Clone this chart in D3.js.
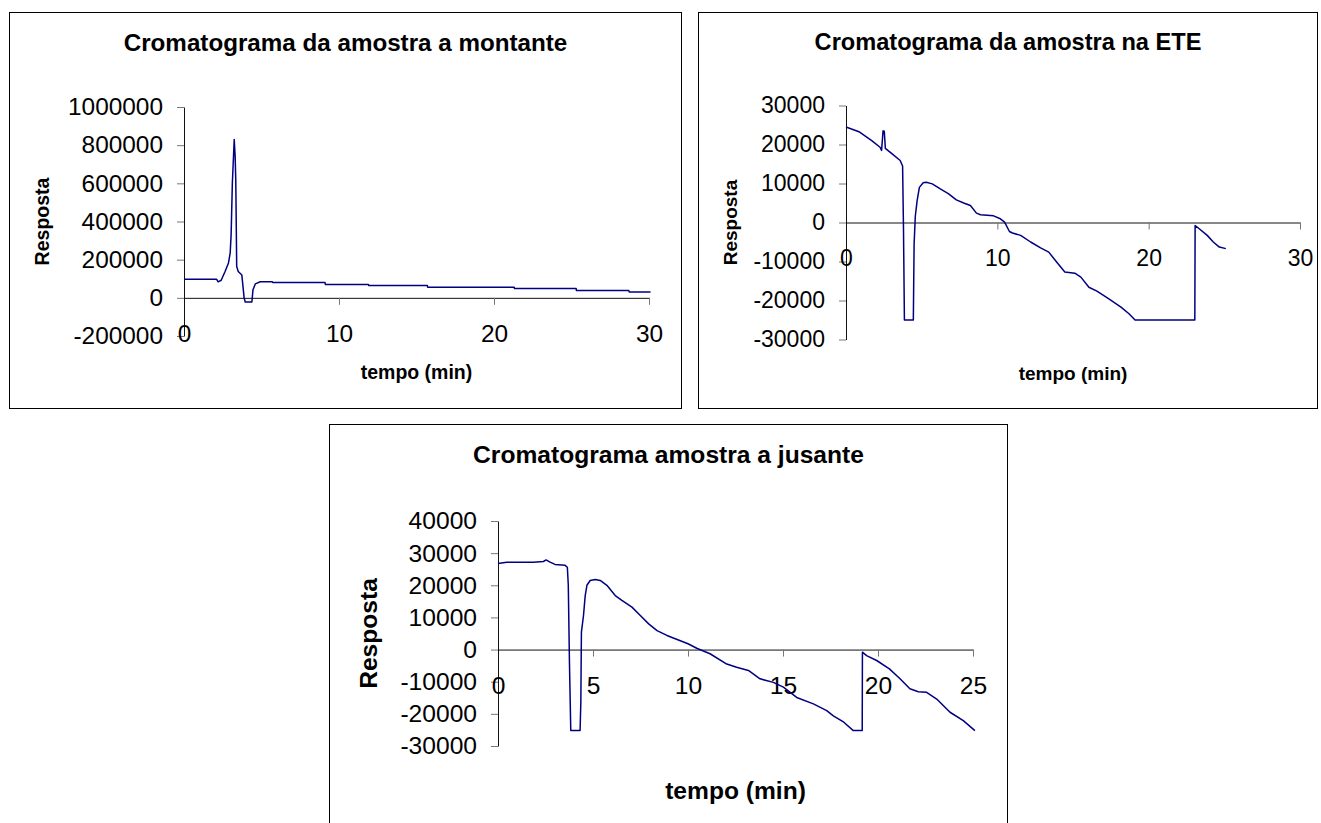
<!DOCTYPE html>
<html lang="pt">
<head>
<meta charset="UTF-8">
<title>Cromatogramas</title>
<style>
  body { margin: 0; background: #fff; }
  svg text { font-family: "Liberation Sans", Arial, sans-serif; fill: #000; }
</style>
</head>
<body>
<svg id="fig" width="1321" height="823"></svg>
<script src="https://d3js.org/d3.v7.min.js"></script>
<script>
// [tempo (min), resposta]
const montante = [
  [0, 98000], [2.1, 98000], [2.2, 84000], [2.4, 92000], [2.65, 138000], [2.87, 183000],
  [2.98, 235000], [3.04, 330000], [3.12, 602000], [3.24, 830000], [3.3, 740000],
  [3.34, 618000], [3.4, 164000], [3.5, 138000], [3.73, 120000], [3.88, 0],
  [3.95, -22000], [4.38, -22000], [4.45, 42000], [4.6, 73000], [4.92, 84000],
  [5.7, 84000], [5.72, 80000], [9.1, 80000], [9.12, 70000], [11.9, 70000],
  [11.92, 64000], [15.7, 64000], [15.72, 56000], [21.3, 56000], [21.32, 49000],
  [25.3, 49000], [25.32, 38000], [28.7, 38000], [28.72, 31000], [30.1, 31000]
];
const ete = [
  [0, 24500], [0.9, 23200], [1.7, 21000], [2.25, 19300], [2.35, 18500], [2.45, 23500],
  [2.53, 23400], [2.6, 19000], [3.05, 17600], [3.58, 15900], [3.74, 14500], [3.8, -2000],
  [3.86, -25000], [4.45, -25000], [4.5, -5600], [4.58, 1600], [4.7, 5600], [4.85, 9000],
  [5.1, 10200], [5.3, 10300], [5.7, 9900], [6.23, 8600], [6.76, 7400], [7.29, 5800],
  [7.82, 4950], [8.22, 4350], [8.62, 2400], [8.89, 1970], [9.75, 1700], [10.2, 950],
  [10.48, 100], [10.8, -2300], [11.0, -2700], [11.54, -3300], [12.2, -5000], [12.86, -6500],
  [13.4, -7600], [13.93, -10200], [14.46, -12700], [15.12, -13000], [15.52, -14000],
  [16.05, -16600], [16.58, -17600], [17.37, -19600], [18.17, -21700], [18.7, -23400],
  [19.1, -25000], [23.05, -25000], [23.07, -800], [23.34, -1600], [23.87, -3300],
  [24.27, -5000], [24.67, -6300], [25.1, -6700]
];
const jusante = [
  [0, 26800], [0.46, 27200], [1.16, 27200], [1.86, 27200], [2.39, 27400], [2.53, 27900],
  [2.74, 27200], [3.0, 26500], [3.53, 26200], [3.65, 25600], [3.7, 20000], [3.76, -3900],
  [3.83, -25200], [4.32, -25200], [4.36, -16400], [4.39, 5400], [4.5, 10600], [4.59, 16800],
  [4.68, 20000], [4.85, 21500], [5.12, 21800], [5.38, 21500], [5.73, 20000], [6.17, 16800],
  [6.52, 15300], [7.05, 13200], [7.49, 10600], [7.93, 8000], [8.37, 5900], [8.89, 4400],
  [10.0, 1800], [10.46, 400], [11.16, -1300], [12.04, -4500], [12.56, -5500], [13.18, -6500],
  [13.79, -9100], [14.49, -10200], [15.02, -11700], [15.72, -14900], [16.6, -16900],
  [17.3, -19000], [17.65, -20600], [18.2, -22600], [18.7, -25200], [19.17, -25200],
  [19.18, -800], [19.4, -1900], [19.93, -3400], [20.6, -6000], [21.16, -9100],
  [21.68, -12200], [22.12, -13100], [22.56, -13300], [23.09, -15400], [23.79, -19500],
  [24.49, -22100], [25.1, -25200]
];

const titles = ["Cromatograma da amostra a montante", "Cromatograma da amostra na ETE", "Cromatograma amostra a jusante"];
const xDomains = [[0, 30], [0, 30], [0, 25]];
const yDomains = [[-200000, 1000000], [-30000, 30000], [-30000, 40000]];
const xTicks = [[0, 10, 20, 30], [0, 10, 20, 30], [0, 5, 10, 15, 20, 25]];
const yTicks = [d3.range(-200000, 1000001, 200000), d3.range(-30000, 30001, 10000), d3.range(-30000, 40001, 10000)];
const xLabel = "tempo (min)";
const yLabel = "Resposta";

// layout of each panel: frame box, plot box and font sizes
const panels = [
  { frame: [9.5, 12.5, 672, 396], plot: [184, 107, 649, 336], titleY: 51, tick: 24.4, title: 24.2, axisT: 19.5, xlabY: 379, ylabX: 49 },
  { frame: [698.5, 12.5, 619, 396], plot: [846, 105.5, 1300, 339.5], titleY: 50, tick: 23, title: 23.6, axisT: 19, xlabY: 380, ylabX: 737 },
  { frame: [329.5, 424.5, 678, 410], plot: [498, 521, 973, 746], titleY: 463, tick: 24.6, title: 24.6, axisT: 24.6, xlabY: 799, ylabX: 377 }
];
const series = [montante, ete, jusante];

const svg = d3.select("#fig");
const plain = d => String(d); // hyphen-minus, as in the original

panels.forEach((p, i) => {
  const g = svg.append("g");
  const [fx, fy, fw, fh] = p.frame;
  const [x0, y0, x1, y1] = p.plot;

  g.append("rect").attr("x", fx).attr("y", fy).attr("width", fw).attr("height", fh)
    .attr("fill", "#fff").attr("stroke", "#000").attr("stroke-width", 1);

  const x = d3.scaleLinear().domain(xDomains[i]).range([x0, x1]);
  const y = d3.scaleLinear().domain(yDomains[i]).range([y1, y0]);

  g.append("text").attr("x", fx + fw / 2).attr("y", p.titleY)
    .attr("text-anchor", "middle").attr("font-weight", "bold").attr("font-size", p.title)
    .text(titles[i]);

  const yAxis = g.append("g").attr("transform", `translate(${x(0)},0)`)
    .call(d3.axisLeft(y).tickValues(yTicks[i]).tickFormat(plain).tickSize(7).tickSizeOuter(0).tickPadding(14));
  const xAxis = g.append("g").attr("transform", `translate(0,${y(0)})`)
    .call(d3.axisBottom(x).tickValues(xTicks[i]).tickFormat(plain).tickSize(7).tickSizeOuter(0).tickPadding(20));

  [xAxis, yAxis].forEach(a => {
    a.select(".domain").attr("stroke", "#111");
    a.selectAll(".tick line").attr("stroke", "#777");
    a.selectAll(".tick text").attr("font-size", p.tick).attr("fill", "#000")
      .style("font-family", '"Liberation Sans", Arial, sans-serif');
  });
  // zero tick on x axis coincides with y axis
  xAxis.selectAll(".tick line").filter(d => d === 0).remove();

  g.append("text").attr("x", (x0 + x1) / 2).attr("y", p.xlabY)
    .attr("text-anchor", "middle").attr("font-weight", "bold").attr("font-size", p.axisT)
    .text(xLabel);
  g.append("text").attr("transform", `translate(${p.ylabX},${(y0 + y1) / 2}) rotate(-90)`)
    .attr("text-anchor", "middle").attr("font-weight", "bold").attr("font-size", p.axisT)
    .text(yLabel);

  const line = d3.line().x(d => x(d[0])).y(d => y(d[1]));
  g.append("path").datum(series[i]).attr("d", line)
    .attr("fill", "none").attr("stroke", "#000080").attr("stroke-width", 1.5)
    .attr("stroke-linejoin", "round");
});
</script>
</body>
</html>
